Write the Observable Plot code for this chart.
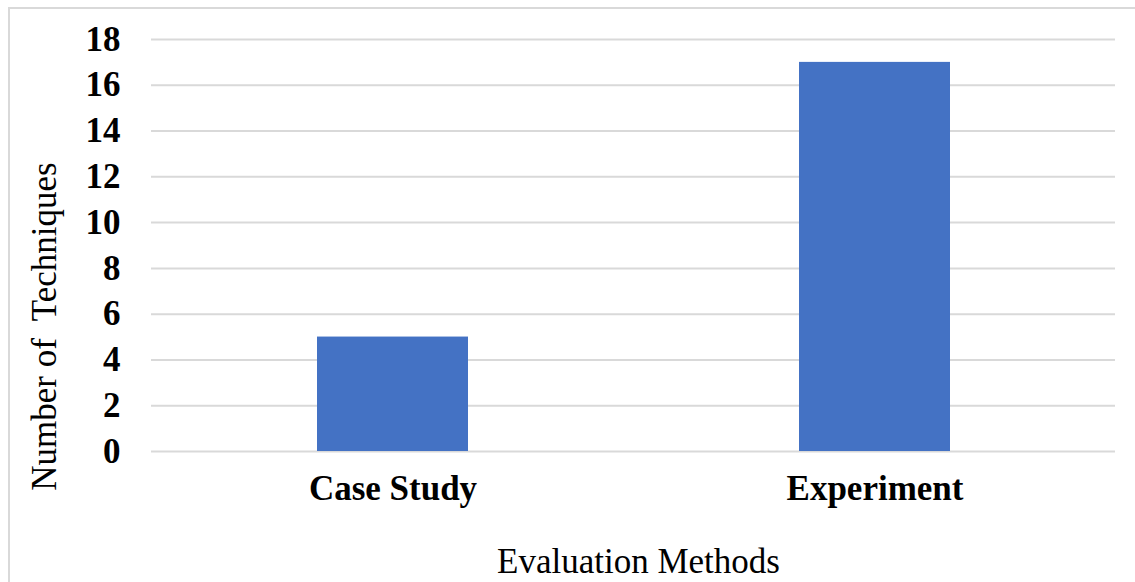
<!DOCTYPE html>
<html>
<head>
<meta charset="utf-8">
<script src="https://cdn.jsdelivr.net/npm/d3@7"></script>
<script src="https://cdn.jsdelivr.net/npm/@observablehq/plot@0.6"></script>
<style>
  html, body { margin: 0; padding: 0; background: #fff; overflow: hidden; }
  #wrap { position: relative; width: 1135px; height: 582px; overflow: hidden; }
  #border { position: absolute; left: 8px; top: 7px; width: 1400px; height: 900px; border: 2px solid #d9d9d9; box-sizing: border-box; }
  #chart { position: absolute; left: 0; top: 0; }
</style>
</head>
<body>
<div id="wrap"><div id="border"></div><div id="chart"></div></div>
<script>
const categories = ["Case Study", "Experiment"];
const values = [5, 17];
const yTicks = [0, 2, 4, 6, 8, 10, 12, 14, 16, 18];
const xTitle = "Evaluation Methods";
const yTitle = "Number of  Techniques";

const data = categories.map((c, i) => ({category: c, value: values[i]}));
const font = "'Liberation Serif', 'Times New Roman', serif";

const chart = Plot.plot({
  width: 1135,
  height: 582,
  marginLeft: 151,
  marginRight: 20,
  marginTop: 39,
  marginBottom: 131,
  style: {fontFamily: font, background: "transparent", overflow: "visible"},
  x: {domain: categories, paddingInner: 0.687, paddingOuter: 0.3435, label: null},
  y: {domain: [0, 18], label: null},
  marks: [
    Plot.gridY(yTicks, {stroke: "#d9d9d9", strokeOpacity: 1, strokeWidth: 2}),
    Plot.barY(data, {x: "category", y: "value", fill: "#4472C4"}),
    Plot.axisY(yTicks, {tickSize: 0, tickPadding: 31, fontSize: 35, fontWeight: "bold", fill: "#000", label: null}),
    Plot.axisX({tickSize: 0, tickPadding: 24, fontSize: 35, fontWeight: "bold", fill: "#000", label: null}),
    Plot.text([yTitle], {frameAnchor: "left", rotate: -90, dx: -107, dy: 81, textAnchor: "middle", lineAnchor: "middle", fontSize: 35, fill: "#000"}),
    Plot.text([xTitle], {frameAnchor: "bottom", dx: 5, dy: 110, textAnchor: "middle", lineAnchor: "middle", fontSize: 35, fill: "#000"})
  ]
});
chart.querySelectorAll("text").forEach(t => t.style.whiteSpace = "pre");
document.getElementById("chart").appendChild(chart);
</script>
</body>
</html>
